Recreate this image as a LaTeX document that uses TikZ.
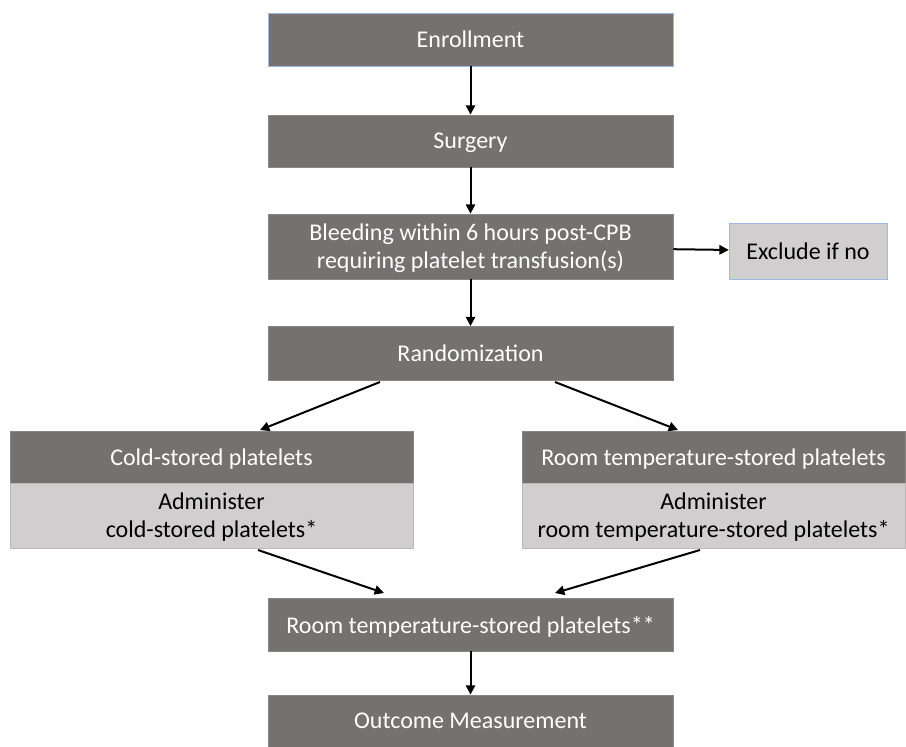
\documentclass[tikz,border=0pt]{standalone}
\usepackage{fontspec}
\setmainfont{Carlito}
\usetikzlibrary{arrows.meta}

\definecolor{boxdark}{RGB}{118,113,113}
\definecolor{boxlight}{RGB}{208,206,206}
\definecolor{edgeblue}{RGB}{160,185,225}

\tikzset{
    darkbox/.style={rectangle,fill=boxdark,draw=boxdark!85!white,line width=0.6pt,text=white,align=center,inner sep=0pt,text depth=0pt,font=\fontsize{18}{21}\selectfont},
    lightbox/.style={rectangle,fill=boxlight,draw=boxlight!90!black,line width=0.4pt,text=black,align=center,inner sep=0pt,text depth=0pt,font=\fontsize{18}{21}\selectfont}
}

\begin{document}
\begin{tikzpicture}[x=0.75pt,y=-0.75pt]
    \useasboundingbox (0,0) rectangle (906,746);

        \begin{scope}
            \node[darkbox,draw=edgeblue,minimum width=405*0.75pt,minimum height=53*0.75pt] (enroll) at (470.5,39.5) {Enrollment};
            \node[darkbox,minimum width=405*0.75pt,minimum height=52*0.75pt] (surgery) at (470.5,141) {Surgery};
            \node[darkbox,minimum width=405*0.75pt,minimum height=65*0.75pt] (bleed) at (470.5,246.5) {Bleeding within 6 hours post-CPB\\requiring platelet transfusion(s)};
            \node[lightbox,draw=edgeblue,minimum width=158*0.75pt,minimum height=56*0.75pt] (exclude) at (808,251) {Exclude if no};
            \node[darkbox,minimum width=405*0.75pt,minimum height=54*0.75pt] (random) at (470.5,353.5) {Randomization};
            \node[darkbox,minimum width=403*0.75pt,minimum height=52*0.75pt] (cold) at (211.5,457) {Cold-stored platelets};
            \node[lightbox,minimum width=403*0.75pt,minimum height=65*0.75pt] (coldadm) at (211.5,515.5) {Administer\\cold-stored platelets*};
            \node[darkbox,minimum width=383*0.75pt,minimum height=52*0.75pt] (room) at (713.5,457) {Room temperature-stored platelets};
            \node[lightbox,minimum width=383*0.75pt,minimum height=65*0.75pt] (roomadm) at (713.5,515.5) {Administer\\room temperature-stored platelets*};
            \node[darkbox,minimum width=405*0.75pt,minimum height=53*0.75pt] (rtsp) at (470.5,624.5) {Room temperature-stored platelets**};
            \node[darkbox,minimum width=405*0.75pt,minimum height=52*0.75pt] (outcome) at (470.5,721) {Outcome Measurement};
        \end{scope}

        % connectors
        \coordinate (randL) at (380,382);
        \coordinate (randR) at (555,382);
        \coordinate (coldT) at (260,430);
        \coordinate (roomT) at (678,430);
        \coordinate (coldB) at (258,550);
        \coordinate (roomB) at (700,550);
        \coordinate (rtspL) at (384,593);
        \coordinate (rtspR) at (555,593);

        \begin{scope}[every edge/.style={draw=black,line width=1.5pt}, >={Triangle[length=7pt,width=7pt]}]
            \path [->] (enroll) edge (surgery);
            \path [->] (surgery) edge (bleed);
            \path [->] (bleed) edge (exclude);
            \path [->] (bleed) edge (random);
            \path [->] (randL) edge (coldT);
            \path [->] (randR) edge (roomT);
            \path [->] (coldB) edge (rtspL);
            \path [->] (roomB) edge (rtspR);
            \path [->] (rtsp) edge (outcome);
        \end{scope}

    \end{tikzpicture}
\end{document}
